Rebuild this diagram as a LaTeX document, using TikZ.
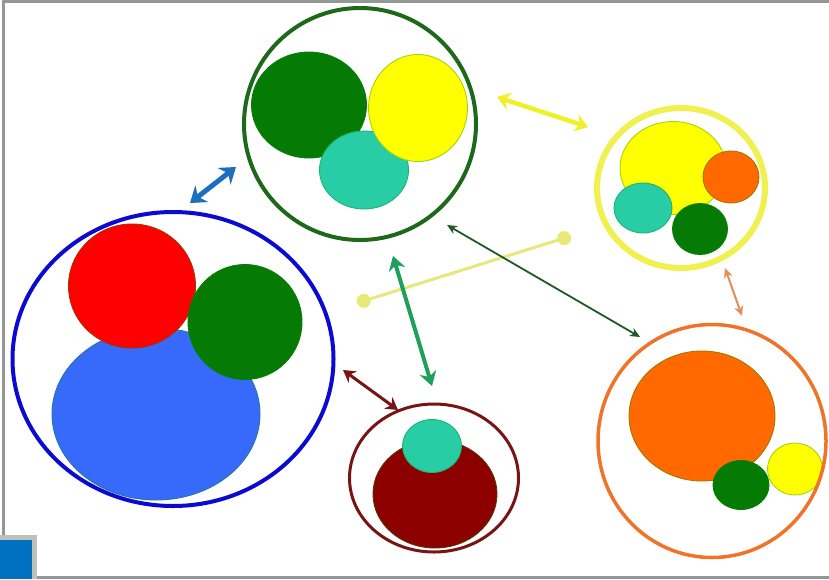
\documentclass[tikz,border=0pt]{standalone}
\usetikzlibrary{shapes.geometric,arrows.meta}
\definecolor{frameGray}{RGB}{150,150,150}
\definecolor{tabGray}{RGB}{192,192,186}
\definecolor{tabBlue}{RGB}{0,112,192}
\definecolor{dkGreen}{RGB}{5,122,5}
\definecolor{ringGreen}{RGB}{30,105,25}
\definecolor{sunYellow}{RGB}{255,255,0}
\definecolor{ringYellow}{RGB}{240,240,80}
\definecolor{teal}{RGB}{40,205,165}
\definecolor{redC}{RGB}{255,0,0}
\definecolor{blueC}{RGB}{55,105,250}
\definecolor{ringBlue}{RGB}{10,10,210}
\definecolor{maroon}{RGB}{140,0,0}
\definecolor{ringMaroon}{RGB}{120,20,20}
\definecolor{orangeC}{RGB}{255,105,0}
\definecolor{ringOrange}{RGB}{240,115,40}
\definecolor{arrBlue}{RGB}{30,110,190}
\definecolor{arrYellow}{RGB}{240,240,40}
\definecolor{paleYellow}{RGB}{232,232,120}
\definecolor{arrDkGreen}{RGB}{30,90,40}
\definecolor{arrGreen}{RGB}{30,160,90}
\definecolor{arrOrange}{RGB}{230,140,90}
\tikzset{
  sz/.style n args={2}{minimum width=#1pt, minimum height=#2pt},
  ring/.style={ellipse, inner sep=0pt, draw=#1},
  blob/.style={ellipse, inner sep=0pt, fill=#1, draw=#1!80!black!80!green, line width=0.9pt},
  link/.style={draw=#1},
  tips/.style 2 args={arrows={Stealth[length=#1pt,width=#2pt]-Stealth[length=#1pt,width=#2pt]}},
  dotlink/.style={draw=#1, {Circle[scale=1.2]}-{Circle[scale=1.2]}}
}
\begin{document}
\begin{tikzpicture}[x=1pt,y=-1pt]
	\useasboundingbox (0,0) rectangle (829,579);
	\draw[frameGray, line width=3pt] (3.5,1.5) rectangle (840,577.5);
	\fill[tabGray] (0,535) rectangle (37,579);
	\fill[tabBlue] (0,540) rectangle (32,579);
	% top group
	\node[ring=ringGreen, line width=4pt, sz={232}{232}] at (360,124) (top) {};
	\node[blob=dkGreen, sz={115}{106}] at (309,105) (topDk) {};
	\node[blob=teal, sz={89}{78}] at (364,170) (topTeal) {};
	\node[blob=sunYellow, sz={99}{107}] at (418,108) (topYel) {};
	% right group
	\node[ring=ringYellow, line width=6pt, sz={168}{160}] at (681,188) (right) {};
	\node[blob=sunYellow, sz={106}{93}] at (673,168) (rightYel) {};
	\node[blob=teal, sz={58}{50}] at (643,208) (rightTeal) {};
	\node[blob=orangeC, sz={56}{52}] at (731,177) (rightOr) {};
	\node[blob=dkGreen, sz={55}{51}] at (700,229) (rightDk) {};
	% left group
	\node[ring=ringBlue, line width=4pt, sz={321}{294}] at (173,359) (left) {};
	\node[blob=blueC, sz={208}{172}] at (156,414) (leftBlue) {};
	\node[blob=redC, sz={127}{124}] at (132,286) (leftRed) {};
	\node[blob=dkGreen, sz={114}{115}] at (245,322) (leftDk) {};
	% bottom group
	\node[ring=ringMaroon, line width=3pt, sz={169}{148}] at (434,478) (bottom) {};
	\node[blob=maroon, sz={124}{108}] at (435,494) (botMar) {};
	\node[blob=teal, sz={59}{53}] at (432,446) (botTeal) {};
	% corner group
	\node[blob=orangeC, sz={146}{130}] at (702,416) (cornOr) {};
	\node[blob=dkGreen, sz={56}{49}] at (741,485) (cornDk) {};
	\node[blob=sunYellow, sz={55}{52}] at (795,469) (cornYel) {};
	\node[ring=ringOrange, line width=3.5pt, sz={228}{233}] at (712,441) (corner) {};
	% link ends
	\coordinate (a1) at (190,203);
	\coordinate (a2) at (236,167);
	\coordinate (b1) at (497,97);
	\coordinate (b2) at (588,127);
	\coordinate (c1) at (357,303);
	\coordinate (c2) at (571,236);
	\coordinate (d1) at (447,225);
	\coordinate (d2) at (640,337);
	\coordinate (e1) at (393,256);
	\coordinate (e2) at (432,386);
	\coordinate (f1) at (343,370);
	\coordinate (f2) at (398,410);
	\coordinate (g1) at (725,268);
	\coordinate (g2) at (742,316);
	\path (a1) edge[link=arrBlue, line width=5pt, tips={15}{21}] (a2)
	(b1) edge[link=arrYellow, line width=4.5pt, tips={13}{18}] (b2)
	(c1) edge[dotlink=paleYellow, line width=3pt] (c2)
	(d1) edge[link=arrDkGreen, line width=1.8pt, tips={10}{9}] (d2)
	(e1) edge[link=arrGreen, line width=4pt, tips={14}{17}] (e2)
	(f1) edge[link=ringMaroon, line width=3pt, tips={12}{14}] (f2)
	(g1) edge[link=arrOrange, line width=2pt, tips={10}{9}] (g2);
\end{tikzpicture}
\end{document}
